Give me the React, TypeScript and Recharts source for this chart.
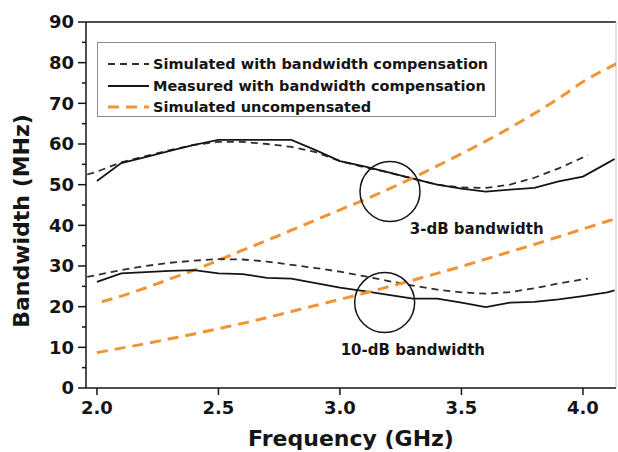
import {
  LineChart,
  Line,
  XAxis,
  YAxis,
  Legend,
  Label,
  ReferenceDot,
  ReferenceLine,
} from 'recharts';

const FONT = '"DejaVu Sans", "Liberation Sans", Arial, sans-serif';
const INK = '#151515';
const DASH_INK = '#2e2e2e';
const ORANGE = '#F29433';

// x range of the plot frame (GHz)
const X_MIN = 1.955;
const X_MAX = 4.136;
const X_TICKS = [2.0, 2.5, 3.0, 3.5, 4.0];
const Y_TICKS = [0, 5, 10, 15, 20, 25, 30, 35, 40, 45, 50, 55, 60, 65, 70, 75, 80, 85, 90];

const LEGEND_ORDER = [
  'Simulated with bandwidth compensation',
  'Measured with bandwidth compensation',
  'Simulated uncompensated',
];

// 3-dB bandwidth, simulated with compensation
const sim3Freq = [1.96, 2.0, 2.1, 2.2, 2.3, 2.4, 2.5, 2.6, 2.7, 2.8, 2.9, 3.0, 3.1, 3.2, 3.3, 3.4, 3.5, 3.6, 3.7, 3.8, 3.9, 4.0, 4.02];
const sim3Bw = [52.5, 53.2, 55.5, 57, 58.5, 59.8, 60.5, 60.5, 60, 59.3, 58, 55.8, 54.3, 53, 51.5, 50, 49.3, 49.2, 50, 51.7, 54, 56.7, 57.3];

// 3-dB bandwidth, measured with compensation
const meas3Freq = [2.0, 2.1, 2.2, 2.3, 2.4, 2.5, 2.6, 2.7, 2.8, 2.9, 3.0, 3.1, 3.2, 3.3, 3.4, 3.5, 3.6, 3.7, 3.8, 3.9, 4.0, 4.1, 4.13];
const meas3Bw = [50.9, 55.3, 56.8, 58.3, 59.8, 61, 61, 61, 61, 58.5, 55.8, 54.5, 53, 51.5, 50, 49, 48.3, 48.8, 49.2, 50.8, 52, 55.3, 56.3];

// 10-dB bandwidth, simulated with compensation
const sim10Freq = [1.96, 2.0, 2.1, 2.2, 2.3, 2.4, 2.5, 2.6, 2.7, 2.8, 2.9, 3.0, 3.1, 3.2, 3.3, 3.4, 3.5, 3.6, 3.7, 3.8, 3.9, 4.0, 4.02];
const sim10Bw = [27.3, 27.8, 29, 30, 30.8, 31.3, 31.7, 31.6, 31.1, 30.3, 29.5, 28.6, 27.5, 26.3, 25.2, 24.2, 23.5, 23.2, 23.6, 24.5, 25.7, 26.7, 26.9];

// 10-dB bandwidth, measured with compensation
const meas10Freq = [2.0, 2.1, 2.2, 2.3, 2.4, 2.5, 2.6, 2.7, 2.8, 2.9, 3.0, 3.1, 3.2, 3.3, 3.4, 3.5, 3.6, 3.7, 3.8, 3.9, 4.0, 4.1, 4.13];
const meas10Bw = [26.1, 28.2, 28.5, 28.8, 29, 28.2, 28, 27.1, 26.9, 25.8, 24.7, 23.8, 22.9, 22, 22, 21, 19.9, 21, 21.2, 21.8, 22.6, 23.5, 24];

// uncompensated (orange), 3-dB and 10-dB
const unc3Freq = [2.02, 2.1, 2.2, 2.3, 2.4, 2.5, 2.6, 2.7, 2.8, 2.9, 3.0, 3.1, 3.2, 3.3, 3.4, 3.5, 3.6, 3.7, 3.8, 3.9, 4.0, 4.1, 4.14];
const unc3Bw = [21.2, 22.6, 24.6, 26.8, 29, 31.4, 33.9, 36.3, 38.8, 41.3, 43.8, 46.3, 48.9, 51.7, 54.6, 57.6, 60.7, 64, 67.5, 71.2, 75.3, 78.6, 79.8];
const unc10Freq = [2.0, 2.1, 2.2, 2.3, 2.4, 2.5, 2.6, 2.7, 2.8, 2.9, 3.0, 3.1, 3.2, 3.3, 3.4, 3.5, 3.6, 3.7, 3.8, 3.9, 4.0, 4.1, 4.14];
const unc10Bw = [8.7, 9.8, 10.9, 12.1, 13.3, 14.6, 15.9, 17.3, 18.8, 20.3, 21.8, 23.3, 24.9, 26.5, 28.2, 29.9, 31.7, 33.5, 35.3, 37.2, 39.1, 41, 41.7];

const toPoints = (freq: number[], bw: number[]) => freq.map((f, i) => ({ freq: f, bw: bw[i] }));

const Y_TICK_SIZE = 8;
const Y_TICK_MARGIN = 4;

const YTick = (props: any) => {
  const { x, y, payload } = props;
  const axisX = x + Y_TICK_SIZE + Y_TICK_MARGIN;
  const major = payload.value % 10 === 0;
  return (
    <g>
      <line x1={axisX - (major ? Y_TICK_SIZE : 4)} x2={axisX} y1={y} y2={y} stroke={INK} strokeWidth={1.5} />
      {major && (
        <text x={x} y={y} dy="0.36em" textAnchor="end" fontFamily={FONT} fontWeight={700} fontSize={18} fill={INK}>
          {payload.value}
        </text>
      )}
    </g>
  );
};

const LegendBox = (props: any) => {
  const items = (props.payload || [])
    .filter((p: any) => LEGEND_ORDER.includes(p.value))
    .sort((a: any, b: any) => LEGEND_ORDER.indexOf(a.value) - LEGEND_ORDER.indexOf(b.value));
  return (
    <div
      style={{
        boxSizing: 'border-box',
        width: 399,
        height: 75,
        border: '1px solid #8c8c8c',
        background: '#fff',
        paddingTop: 10,
      }}
    >
      {items.map((it: any) => (
        <div key={it.value} style={{ display: 'flex', alignItems: 'center', height: 21.7 }}>
          <svg width={51} height={8} style={{ flex: 'none' }}>
            <line
              x1={10}
              x2={51}
              y1={4}
              y2={4}
              stroke={it.color}
              strokeWidth={it.payload?.strokeWidth ?? 1.8}
              strokeDasharray={it.payload?.strokeDasharray}
            />
          </svg>
          <span
            style={{
              marginLeft: 4,
              fontFamily: FONT,
              fontWeight: 700,
              fontSize: 14.5,
              color: INK,
              whiteSpace: 'nowrap',
            }}
          >
            {it.value}
          </span>
        </div>
      ))}
    </div>
  );
};

const textStyle = { fontFamily: FONT, fontWeight: 700, fill: INK };

export default function App() {
  return (
    <div style={{ position: 'absolute', left: 0, top: 0, background: '#fff' }}>
      <LineChart width={618} height={452} margin={{ top: 22, right: 2, bottom: 24, left: 26 }}>
        <XAxis
          type="number"
          dataKey="freq"
          domain={[X_MIN, X_MAX]}
          ticks={X_TICKS}
          allowDataOverflow
          tickFormatter={(v: number) => v.toFixed(1)}
          height={40}
          tickSize={7}
          tickMargin={6}
          axisLine={{ stroke: INK, strokeWidth: 1.5 }}
          tickLine={{ stroke: INK, strokeWidth: 1.5 }}
          tick={{ ...textStyle, fontSize: 18 }}
        >
          <Label
            content={(p: any) => {
              const vb = p.viewBox;
              return (
                <text x={vb.x + vb.width / 2} y={vb.y + 58} textAnchor="middle" fontSize={22} {...textStyle}>
                  Frequency (GHz)
                </text>
              );
            }}
          />
        </XAxis>
        <YAxis
          type="number"
          domain={[0, 90]}
          ticks={Y_TICKS}
          interval={0}
          allowDataOverflow
          width={60}
          tickSize={Y_TICK_SIZE}
          tickMargin={Y_TICK_MARGIN}
          tickLine={false}
          axisLine={{ stroke: INK, strokeWidth: 1.5 }}
          tick={<YTick />}
        >
          <Label
            content={(p: any) => {
              const vb = p.viewBox;
              const cx = vb.x + 3;
              const cy = vb.y + vb.height / 2 + 16;
              return (
                <text x={cx} y={cy} textAnchor="middle" transform={`rotate(-90, ${cx}, ${cy})`} fontSize={22} {...textStyle}>
                  Bandwidth (MHz)
                </text>
              );
            }}
          />
        </YAxis>

        <ReferenceLine y={90} stroke={INK} strokeWidth={1.5} />
        <ReferenceLine x={X_MAX} stroke="#c4c4c4" strokeWidth={1} />

        <Legend
          layout="horizontal"
          verticalAlign="middle"
          align="center"
          wrapperStyle={{ left: 97, top: 42, width: 399, height: 75 }}
          content={<LegendBox />}
        />

        <Line
          data={toPoints(sim3Freq, sim3Bw)}
          dataKey="bw"
          name="Simulated with bandwidth compensation"
          stroke={DASH_INK}
          strokeWidth={1.8}
          strokeDasharray="7 5"
          dot={false}
          type="linear"
          isAnimationActive={false}
        />
        <Line
          data={toPoints(meas3Freq, meas3Bw)}
          dataKey="bw"
          name="Measured with bandwidth compensation"
          stroke={INK}
          strokeWidth={1.8}
          dot={false}
          type="linear"
          isAnimationActive={false}
        />
        <Line
          data={toPoints(unc3Freq, unc3Bw)}
          dataKey="bw"
          name="Simulated uncompensated"
          stroke={ORANGE}
          strokeWidth={3}
          strokeDasharray="11 7"
          dot={false}
          type="monotone"
          isAnimationActive={false}
        />
        <Line
          data={toPoints(sim10Freq, sim10Bw)}
          dataKey="bw"
          name="sim10"
          legendType="none"
          stroke={DASH_INK}
          strokeWidth={1.8}
          strokeDasharray="7 5"
          dot={false}
          type="linear"
          isAnimationActive={false}
        />
        <Line
          data={toPoints(meas10Freq, meas10Bw)}
          dataKey="bw"
          name="meas10"
          legendType="none"
          stroke={INK}
          strokeWidth={1.8}
          dot={false}
          type="linear"
          isAnimationActive={false}
        />
        <Line
          data={toPoints(unc10Freq, unc10Bw)}
          dataKey="bw"
          name="unc10"
          legendType="none"
          stroke={ORANGE}
          strokeWidth={3}
          strokeDasharray="11 7"
          dot={false}
          type="monotone"
          isAnimationActive={false}
        />

        <ReferenceDot x={3.206} y={48.3} r={30} fill="none" stroke={INK} strokeWidth={1.5} />
        <ReferenceDot x={3.184} y={21.0} r={30} fill="none" stroke={INK} strokeWidth={1.5} />
        <ReferenceDot
          x={3.563}
          y={39.3}
          r={0}
          fill="none"
          stroke="none"
          label={{ value: '3-dB bandwidth', position: 'center', fontSize: 15, ...textStyle }}
        />
        <ReferenceDot
          x={3.3}
          y={9.5}
          r={0}
          fill="none"
          stroke="none"
          label={{ value: '10-dB bandwidth', position: 'center', fontSize: 15, ...textStyle }}
        />
      </LineChart>
    </div>
  );
}
